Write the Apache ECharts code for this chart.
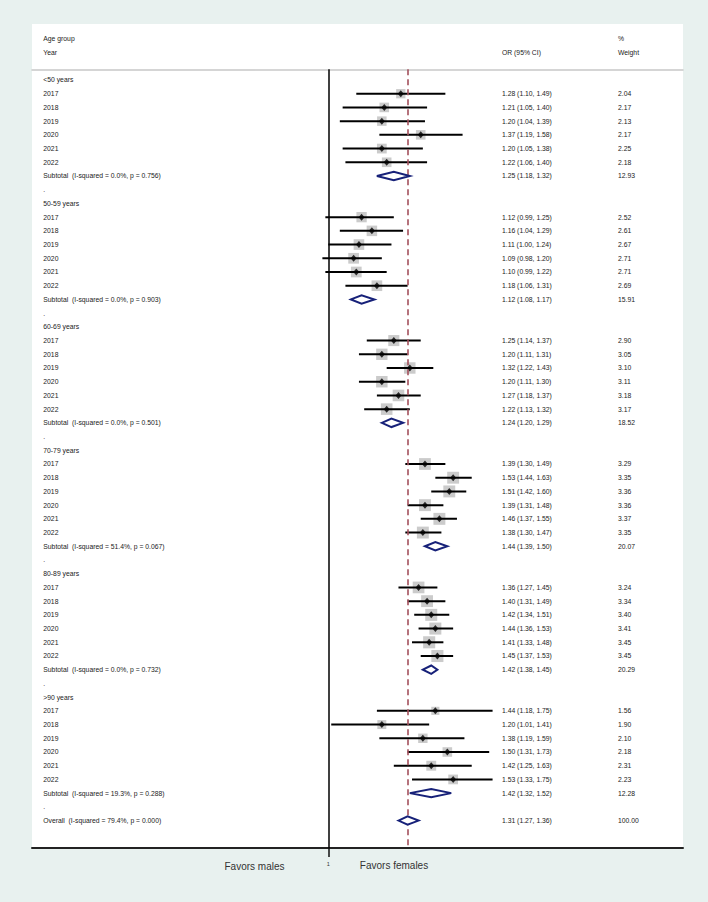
<!DOCTYPE html>
<html>
<head>
<meta charset="utf-8">
<title>Forest plot</title>
<script src="https://cdn.jsdelivr.net/npm/echarts@6/dist/echarts.min.js"></script>
<style>
  html, body { margin: 0; padding: 0; background: #e8f1ef; }
  #chart { width: 708px; height: 902px; }
</style>
</head>
<body>
<div id="chart"></div>
<script>
// 年龄组和年份
const groups = ['<50 years', '50-59 years', '60-69 years', '70-79 years', '80-89 years', '>90 years']
const years = ['2017', '2018', '2019', '2020', '2021', '2022']

// 每个年龄组各年份的 OR 及 95% CI
const yearOR = [
  [1.28, 1.21, 1.20, 1.37, 1.20, 1.22],
  [1.12, 1.16, 1.11, 1.09, 1.10, 1.18],
  [1.25, 1.20, 1.32, 1.20, 1.27, 1.22],
  [1.39, 1.53, 1.51, 1.39, 1.46, 1.38],
  [1.36, 1.40, 1.42, 1.44, 1.41, 1.45],
  [1.44, 1.20, 1.38, 1.50, 1.42, 1.53]
]
const yearLow = [
  [1.10, 1.05, 1.04, 1.19, 1.05, 1.06],
  [0.99, 1.04, 1.00, 0.98, 0.99, 1.06],
  [1.14, 1.11, 1.22, 1.11, 1.18, 1.13],
  [1.30, 1.44, 1.42, 1.31, 1.37, 1.30],
  [1.27, 1.31, 1.34, 1.36, 1.33, 1.37],
  [1.18, 1.01, 1.19, 1.31, 1.25, 1.33]
]
const yearHigh = [
  [1.49, 1.40, 1.39, 1.58, 1.38, 1.40],
  [1.25, 1.29, 1.24, 1.20, 1.22, 1.31],
  [1.37, 1.31, 1.43, 1.30, 1.37, 1.32],
  [1.49, 1.63, 1.60, 1.48, 1.55, 1.47],
  [1.45, 1.49, 1.51, 1.53, 1.48, 1.53],
  [1.75, 1.41, 1.59, 1.73, 1.63, 1.75]
]
// % 权重
const yearWeight = [
  [2.04, 2.17, 2.13, 2.17, 2.25, 2.18],
  [2.52, 2.61, 2.67, 2.71, 2.71, 2.69],
  [2.90, 3.05, 3.10, 3.11, 3.18, 3.17],
  [3.29, 3.35, 3.36, 3.36, 3.37, 3.35],
  [3.24, 3.34, 3.40, 3.41, 3.45, 3.45],
  [1.56, 1.90, 2.10, 2.18, 2.31, 2.23]
]

// 亚组合并
const subOR = [1.25, 1.12, 1.24, 1.44, 1.42, 1.42]
const subLow = [1.18, 1.08, 1.20, 1.39, 1.38, 1.32]
const subHigh = [1.32, 1.17, 1.29, 1.50, 1.45, 1.52]
const subWeight = [12.93, 15.91, 18.52, 20.07, 20.29, 12.28]
const subI2 = ['0.0%', '0.0%', '0.0%', '51.4%', '0.0%', '19.3%']
const subP = ['0.756', '0.903', '0.501', '0.067', '0.732', '0.288']

// 总体
const overallOR = 1.31
const overallLow = 1.27
const overallHigh = 1.36
const overallWeight = 100
const overallI2 = '79.4%'
const overallP = '0.000'

const font = 'Liberation Sans, Arial, sans-serif'
const textColor = '#222'
const navy = '#172179'

function fmtOR (est, lo, hi) {
  return est.toFixed(2) + ' (' + lo.toFixed(2) + ', ' + hi.toFixed(2) + ')'
}

// 组装每一行
const rowText = []
const orText = []
const weightText = []
const boxData = [] // [or, row, weight]
const ciData = [] // [low, high, row]
const diamondData = [] // [or, low, high, row]

groups.forEach((g, gi) => {
  let row = gi * 9
  rowText[row] = g
  years.forEach((y, yi) => {
    row++
    rowText[row] = y
    orText[row] = fmtOR(yearOR[gi][yi], yearLow[gi][yi], yearHigh[gi][yi])
    weightText[row] = yearWeight[gi][yi].toFixed(2)
    boxData.push([yearOR[gi][yi], row, yearWeight[gi][yi]])
    ciData.push([yearLow[gi][yi], yearHigh[gi][yi], row])
  })
  row++
  rowText[row] = 'Subtotal  (I-squared = ' + subI2[gi] + ', p = ' + subP[gi] + ')'
  orText[row] = fmtOR(subOR[gi], subLow[gi], subHigh[gi])
  weightText[row] = subWeight[gi].toFixed(2)
  diamondData.push([subOR[gi], subLow[gi], subHigh[gi], row])
  row++
  rowText[row] = '.'
})
const overallRow = groups.length * 9
rowText[overallRow] = 'Overall  (I-squared = ' + overallI2 + ', p = ' + overallP + ')'
orText[overallRow] = fmtOR(overallOR, overallLow, overallHigh)
weightText[overallRow] = overallWeight.toFixed(2)
diamondData.push([overallOR, overallLow, overallHigh, overallRow])

const rowIdx = rowText.map((t, i) => i)
const yMin = -0.78
const yMax = 56

// 文字列用 y 轴标签画
function labelAxis (texts, offset) {
  return {
    type: 'value',
    inverse: true,
    min: yMin,
    max: yMax,
    position: 'left',
    offset: offset,
    axisLine: { show: false, onZero: false },
    axisTick: { show: false },
    splitLine: { show: false },
    axisLabel: {
      inside: true,
      margin: 0,
      align: 'left',
      fontSize: 6.8,
      fontFamily: font,
      color: textColor,
      customValues: rowIdx,
      formatter: v => texts[Math.round(v)] || ''
    }
  }
}

const xMin = 0.3644
const xMax = 3.348

const chart = echarts.init(document.getElementById('chart'), null, { renderer: 'svg' })
chart.setOption({
  animation: false,
  backgroundColor: '#e8f1ef',
  grid: {
    left: 32,
    right: 25,
    top: 69.3,
    bottom: 54,
    containLabel: false,
    outerBoundsMode: 'none'
  },
  graphic: [
    { type: 'rect', z: -100, shape: { x: 32, y: 24, width: 651, height: 824 }, style: { fill: '#fff' } },
    { type: 'text', x: 43.3, y: 38.7, style: { text: 'Age group', font: '6.8px ' + font, fill: textColor, verticalAlign: 'middle' } },
    { type: 'text', x: 43.3, y: 52.3, style: { text: 'Year', font: '6.8px ' + font, fill: textColor, verticalAlign: 'middle' } },
    { type: 'text', x: 502, y: 52.3, style: { text: 'OR (95% CI)', font: '6.8px ' + font, fill: textColor, verticalAlign: 'middle' } },
    { type: 'text', x: 618, y: 38.7, style: { text: '%', font: '6.8px ' + font, fill: textColor, verticalAlign: 'middle' } },
    { type: 'text', x: 618, y: 52.3, style: { text: 'Weight', font: '6.8px ' + font, fill: textColor, verticalAlign: 'middle' } },
    { type: 'text', x: 254.5, y: 866.7, style: { text: 'Favors males', font: '10px ' + font, fill: '#333', align: 'center', verticalAlign: 'middle' } },
    { type: 'text', x: 394, y: 865, style: { text: 'Favors females', font: '10px ' + font, fill: '#333', align: 'center', verticalAlign: 'middle' } }
  ],
  xAxis: [
    {
      type: 'log',
      min: xMin,
      max: xMax,
      position: 'bottom',
      axisLine: { onZero: false, lineStyle: { color: '#222', width: 2 } },
      axisTick: { customValues: [1], length: 9, lineStyle: { color: '#111', width: 1.5 } },
      axisLabel: { customValues: [1], fontSize: 5.5, margin: 13, color: '#333', fontFamily: font },
      splitLine: { show: false },
      minorTick: { show: false }
    },
    {
      type: 'log',
      min: xMin,
      max: xMax,
      position: 'top',
      axisLine: { onZero: false, lineStyle: { color: '#c8c8c8', width: 1.5 } },
      axisTick: { show: false },
      axisLabel: { show: false },
      splitLine: { show: false }
    }
  ],
  yAxis: [
    labelAxis(rowText, -11.3),
    labelAxis(orText, -470),
    labelAxis(weightText, -586)
  ],
  series: [
    {
      // 无效线和总体估计线
      type: 'line',
      data: [],
      z: 1,
      markLine: {
        silent: true,
        symbol: ['none', 'none'],
        label: { show: false },
        emphasis: { disabled: true },
        data: [
          { xAxis: 1, lineStyle: { color: '#000', width: 1.5, type: 'solid' } },
          { xAxis: overallOR, lineStyle: { color: '#a4505c', width: 1.6, type: [6, 4] } }
        ]
      }
    },
    {
      type: 'scatter',
      z: 2,
      symbol: 'rect',
      symbolSize: val => 6.5 * Math.sqrt(val[2]),
      itemStyle: { color: '#bebebe' },
      data: boxData
    },
    {
      type: 'custom',
      z: 3,
      encode: { x: [0, 1], y: 2 },
      renderItem (params, api) {
        const a = api.coord([api.value(0), api.value(2)])
        const b = api.coord([api.value(1), api.value(2)])
        return {
          type: 'line',
          shape: { x1: a[0], y1: a[1], x2: b[0], y2: b[1] },
          style: { stroke: '#000', lineWidth: 2 }
        }
      },
      data: ciData
    },
    {
      type: 'scatter',
      z: 4,
      symbol: 'diamond',
      symbolSize: [6, 7],
      itemStyle: { color: '#000' },
      data: boxData
    },
    {
      type: 'custom',
      z: 5,
      encode: { x: [0, 1, 2], y: 3 },
      renderItem (params, api) {
        const row = api.value(3)
        const l = api.coord([api.value(1), row])
        const c = api.coord([api.value(0), row])
        const r = api.coord([api.value(2), row])
        const h = 4.2
        return {
          type: 'polygon',
          shape: { points: [[l[0], c[1]], [c[0], c[1] - h], [r[0], c[1]], [c[0], c[1] + h]] },
          style: { fill: '#fff', stroke: navy, lineWidth: 2 }
        }
      },
      data: diamondData
    }
  ]
})
</script>
</body>
</html>
